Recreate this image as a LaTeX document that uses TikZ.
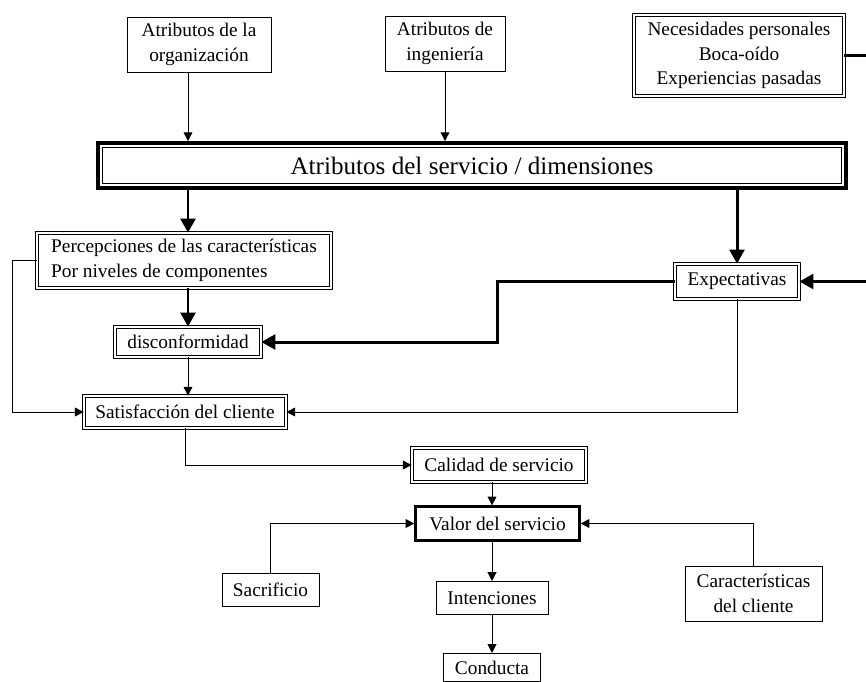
\documentclass[tikz,border=0pt]{standalone}
\usepackage{fontspec}
\setmainfont{Liberation Serif}
\usetikzlibrary{positioning,arrows.meta}
\tikzset{
    box/.style = {
        draw,
        line width = 0.55pt,
        inner sep = 2pt,
        align = center,
        font = \fontsize{11pt}{14pt}\selectfont,
    },
    dbox/.style = {
        box,
        double,
        double distance = 0.9pt,
        line width = 0.45pt,
    },
    mainbox/.style = {
        box,
        line width = 2.2pt,
        font = \fontsize{14.3pt}{16pt}\selectfont,
        path picture = {
            \draw[line width=0.5pt]
                ([shift={(2.4pt,2.4pt)}]path picture bounding box.south west) rectangle
                ([shift={(-2.4pt,-2.4pt)}]path picture bounding box.north east);
        },
    },
    thinarrow/.style = {line width=0.55pt, -{Triangle[length=5pt,width=5pt]}},
    fatarrow/.style = {line width=1.7pt, -{Triangle[length=8pt,width=8.5pt]}},
}

\begin{document}
\begin{tikzpicture}[x=0.02cm, y=-0.02cm]
    \useasboundingbox (0,0) rectangle (866,681);

    \node[box, minimum width=2.88cm, minimum height=1.1cm] (OrgAttr) at (199,44.5) {Atributos de la\\organización};
    \node[box, minimum width=2.4cm, minimum height=1.1cm] (IngAttr) at (445,43.5) {Atributos de\\ingeniería};
    \node[dbox, minimum width=4.2cm, minimum height=1.62cm] (Necesidades) at (739,55.5) {Necesidades personales\\Boca-oído\\Experiencias pasadas};

    \node[mainbox, minimum width=14.96cm, minimum height=0.9cm] (ServAttr) at (472,165.5) {Atributos del servicio / dimensiones};

    \node[dbox, align=left, minimum width=5.88cm, minimum height=1.1cm] (Percep) at (184,260.5) {Percepciones de las características\\Por niveles de componentes};
    \node[dbox, minimum width=2.48cm, minimum height=0.7cm] (Expect) at (737,281.5) {Expectativas};
    \node[dbox, minimum width=2.92cm, minimum height=0.6cm] (Disconf) at (188,342) {disconformidad};
    \node[dbox, minimum width=4.04cm, minimum height=0.64cm] (Satisf) at (185,412) {Satisfacción del cliente};
    \node[dbox, minimum width=3.48cm, minimum height=0.68cm] (Calidad) at (499,465) {Calidad de servicio};

    \node[box, line width=1.3pt, minimum width=3.28cm, minimum height=0.68cm] (Valor) at (497.5,523.5) {Valor del servicio};
    \node[box, minimum width=1.94cm, minimum height=0.66cm] (Sacrif) at (270.5,589.5) {Sacrificio};
    \node[box, minimum width=2.74cm, minimum height=1.1cm] (CarCli) at (753.5,593.5) {Características\\del cliente};
    \node[box, minimum width=2.24cm, minimum height=0.66cm] (Intenc) at (492,598) {Intenciones};
    \node[box, minimum width=1.94cm, minimum height=0.56cm, below=0.76cm of Intenc] (Conducta) {Conducta};

    \coordinate (LeftRail) at (12,260.5);
    \coordinate (RightRail) at (869,281.5);

    \draw[thinarrow] (OrgAttr.south -| Disconf) -- (Disconf |- ServAttr.north);
    \draw[thinarrow] (IngAttr.south) -- (IngAttr |- ServAttr.north);

    \draw[fatarrow] (ServAttr.south -| Disconf) -- (Disconf |- Percep.north);
    \draw[fatarrow] (ServAttr.south -| Expect) -- (Expect.north);
    \draw[fatarrow] (Percep.south -| Disconf) -- (Disconf.north);
    \draw[fatarrow] (Expect.west) -- (Expect.west -| Valor) |- (Disconf.east);
    \draw[fatarrow] (Necesidades.east) -| (RightRail) -- (Expect.east);

    \draw[thinarrow] (Disconf.south) -- (Disconf |- Satisf.north);
    \draw[thinarrow] (Percep.west) -- (LeftRail) |- (Satisf.west);
    \draw[thinarrow] (Expect.south) |- (Satisf.east);
    \draw[thinarrow] (Satisf.south) |- (Calidad.west);
    \draw[thinarrow] (Calidad.south -| Intenc) -- (Intenc |- Valor.north);
    \draw[thinarrow] (Sacrif.north) |- (Valor.west);
    \draw[thinarrow] (CarCli.north) |- (Valor.east);
    \draw[thinarrow] (Valor.south -| Intenc) -- (Intenc.north);
    \draw[thinarrow] (Intenc.south) -- (Conducta.north);

  \end{tikzpicture}
\end{document}
